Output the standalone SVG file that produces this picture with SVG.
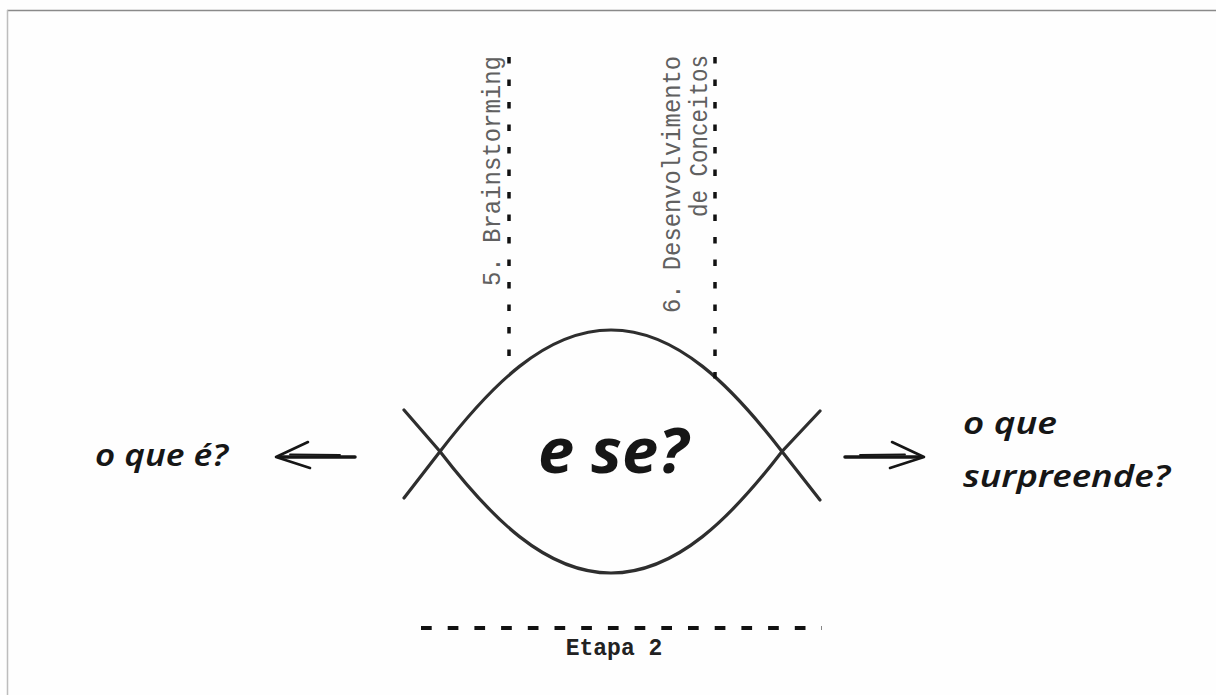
<svg xmlns="http://www.w3.org/2000/svg" width="1216" height="695" viewBox="0 0 1216 695">
  <style>
    .frame { stroke-width: 1.5; fill: none; }
    .curve { fill: none; stroke: #2e2e2e; stroke-width: 3.2; stroke-linecap: round; }
    .vdash { stroke: #111; stroke-width: 3.5; stroke-dasharray: 6.5 16; fill: none; }
    .hdash { stroke: #111; stroke-width: 4; stroke-dasharray: 10.7 16; fill: none; }
    .mono { font-family: "Liberation Mono", "Courier New", monospace; fill: #606060; font-size: 26px; }
    .monob { font-family: "Liberation Mono", "Courier New", monospace; fill: #222; font-size: 23px; font-weight: bold; }
    .hand { font-family: "Noto Sans", "DejaVu Sans", sans-serif; font-style: italic; fill: #161616; }
    .arrow { fill: none; stroke: #161616; stroke-linecap: round; stroke-linejoin: round; }
  </style>
  <rect x="0" y="0" width="1216" height="695" fill="#fefefe"/>
  <g id="frame">
    <line class="frame" x1="7" y1="10.5" x2="1216" y2="10.5" stroke="#8a8a8a"/>
    <line class="frame" x1="7.5" y1="10" x2="7.5" y2="695" stroke="#bdbdbd" stroke-width="2"/>
  </g>

  <g id="lens">
    <path class="curve" d="M404,498 L440,451.5 C490,386.5 545,330 611,330 C677,330 732,386.5 782,451.5 L820,500"/>
    <path class="curve" d="M404,410 L440,451.5 C490,516.5 545,573 611,573 C677,573 732,516.5 782,451.5 L820,411"/>
    <text class="hand" x="613" y="473" font-size="62" font-weight="bold" text-anchor="middle" textLength="150" lengthAdjust="spacingAndGlyphs">e se?</text>
  </g>

  <g id="step5">
    <line class="vdash" x1="509" y1="57" x2="509" y2="357"/>
    <text class="mono" transform="translate(500,286) rotate(-90)" textLength="230" lengthAdjust="spacingAndGlyphs">5. Brainstorming</text>
  </g>

  <g id="step6">
    <line class="vdash" x1="715" y1="57" x2="715" y2="380"/>
    <text class="mono" transform="translate(680,313) rotate(-90)" textLength="257" lengthAdjust="spacingAndGlyphs">6. Desenvolvimento</text>
    <text class="mono" transform="translate(707,217) rotate(-90)" textLength="162" lengthAdjust="spacingAndGlyphs">de Conceitos</text>
  </g>

  <g id="etapa2">
    <line class="hdash" x1="421" y1="628" x2="822" y2="628"/>
    <text class="monob" x="614" y="655" text-anchor="middle">Etapa 2</text>
  </g>

  <g id="left-label">
    <text class="hand" x="95" y="466" font-size="30" font-weight="600" textLength="133" lengthAdjust="spacingAndGlyphs">o que é?</text>
  </g>

  <g id="right-label">
    <text class="hand" x="963" y="434" font-size="30" font-weight="600" textLength="94" lengthAdjust="spacingAndGlyphs">o que</text>
    <text class="hand" x="963" y="487" font-size="30" font-weight="600" textLength="207" lengthAdjust="spacingAndGlyphs">surpreende?</text>
  </g>

  <g id="connectors">
    <path class="arrow" stroke-width="3.5" d="M355,457 L280,457"/>
    <path class="arrow" stroke-width="1.8" d="M340,455 L290,454.5"/>
    <path class="arrow" stroke-width="2.6" d="M308,442 L276,457 L310,468"/>
    <path class="arrow" stroke-width="3.5" d="M845,457 L920,457"/>
    <path class="arrow" stroke-width="1.8" d="M860,455 L905,454.5"/>
    <path class="arrow" stroke-width="2.6" d="M892,442 L924,457 L890,468"/>
  </g>
</svg>
